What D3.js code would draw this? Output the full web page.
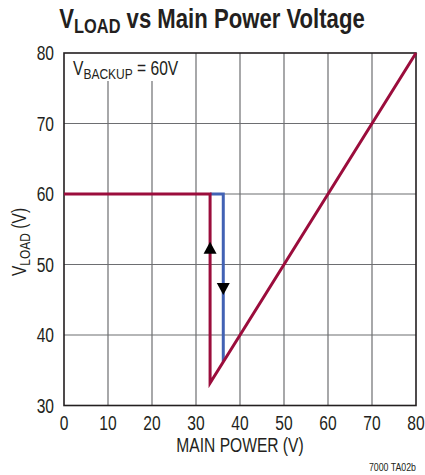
<!DOCTYPE html>
<html>
<head>
<meta charset="utf-8">
<script src="https://cdn.jsdelivr.net/npm/d3@7"></script>
<style>
  body { margin: 0; background: #fff; }
  svg text { font-family: "Liberation Sans", Arial, sans-serif; fill: #231f20; }
</style>
</head>
<body>
<script>
const xTicks = [0, 10, 20, 30, 40, 50, 60, 70, 80]
const yTicks = [30, 40, 50, 60, 70, 80]

// rising main power (red) and falling main power (blue)
const redLine = [[0, 60], [33.2, 60], [33.2, 33.2], [80, 80]]
const blueLine = [[33.2, 60], [36.2, 60], [36.2, 36.2]]
// arrow markers: [x, y, direction]
const arrows = [[33.2, 52.3, 'up'], [36.2, 46.6, 'down']]

const width = 425, height = 475
const margin = { left: 64, right: 9, top: 53, bottom: 70 }
const narrow = 0.8 // condensed look

const svg = d3.select('body').append('svg')
  .attr('width', width)
  .attr('height', height)

const x = d3.scaleLinear().domain([0, 80]).range([margin.left, width - margin.right])
const y = d3.scaleLinear().domain([30, 80]).range([height - margin.bottom + 0.5, margin.top])

function place (sel, px, py, rot, sx) {
  return sel.attr('transform', `translate(${px},${py})${rot ? ' rotate(' + rot + ')' : ''} scale(${sx || narrow},1)`)
}

// grid
svg.append('g')
  .selectAll('line')
  .data(xTicks.slice(1, -1))
  .join('line')
  .attr('x1', d => x(d)).attr('x2', d => x(d))
  .attr('y1', y(30)).attr('y2', y(80))
  .attr('stroke', '#6d6e71').attr('stroke-width', 1.2)

svg.append('g')
  .selectAll('line')
  .data(yTicks.slice(1, -1))
  .join('line')
  .attr('x1', x(0)).attr('x2', x(80))
  .attr('y1', d => y(d)).attr('y2', d => y(d))
  .attr('stroke', '#6d6e71').attr('stroke-width', 1.2)

// label box covers grid
svg.append('rect')
  .attr('x', x(0)).attr('y', y(80))
  .attr('width', x(22) - x(0)).attr('height', 28)
  .attr('fill', '#fff')

const lbl = place(svg.append('text'), x(0) + 9, y(80) + 22)
  .attr('font-size', 19.5)
lbl.append('tspan').text('V')
lbl.append('tspan').attr('font-size', 15).attr('dy', 4).text('BACKUP')
lbl.append('tspan').attr('dy', -4).text(' = 60V')

// frame
svg.append('rect')
  .attr('x', x(0)).attr('y', y(80))
  .attr('width', x(80) - x(0)).attr('height', y(30) - y(80))
  .attr('fill', 'none').attr('stroke', '#231f20').attr('stroke-width', 1.6)

const line = d3.line().x(d => x(d[0])).y(d => y(d[1]))

svg.append('path')
  .attr('d', line(blueLine))
  .attr('fill', 'none').attr('stroke', '#4262b4').attr('stroke-width', 3)

svg.append('path')
  .attr('d', line(redLine))
  .attr('fill', 'none').attr('stroke', '#9b0d3c').attr('stroke-width', 3)

svg.append('g')
  .selectAll('path')
  .data(arrows)
  .join('path')
  .attr('transform', d => `translate(${x(d[0])},${y(d[1])})`)
  .attr('d', d => d[2] === 'up' ? 'M-6.5,5.5L6.5,5.5L0,-6.5Z' : 'M-6.5,-5.5L6.5,-5.5L0,6.5Z')
  .attr('fill', '#000')

// tick labels
svg.append('g')
  .selectAll('text')
  .data(xTicks)
  .join('text')
  .each(function (d) { place(d3.select(this), x(d), y(30) + 24) })
  .attr('text-anchor', 'middle')
  .attr('font-size', 19.5)
  .text(d => d)

svg.append('g')
  .selectAll('text')
  .data(yTicks)
  .join('text')
  .each(function (d) { place(d3.select(this), x(0) - 10, y(d) + 7) })
  .attr('text-anchor', 'end')
  .attr('font-size', 19.5)
  .text(d => d)

// axis titles
place(svg.append('text'), x(40), 452)
  .attr('text-anchor', 'middle')
  .attr('font-size', 19.5)
  .text('MAIN POWER (V)')

const yl = place(svg.append('text'), 26, 242, -90)
  .attr('text-anchor', 'middle')
  .attr('font-size', 19.5)
yl.append('tspan').text('V')
yl.append('tspan').attr('font-size', 15).attr('dy', 4).text('LOAD')
yl.append('tspan').attr('dy', -4).text(' (V)')

// title
const t = place(svg.append('text'), 212, 28, 0, 0.82)
  .attr('text-anchor', 'middle')
  .attr('font-size', 27)
  .attr('font-weight', 'bold')
t.append('tspan').text('V')
t.append('tspan').attr('font-size', 20).attr('dy', 5).text('LOAD')
t.append('tspan').attr('dy', -5).text(' vs Main Power Voltage')

place(svg.append('text'), 416, 471)
  .attr('text-anchor', 'end')
  .attr('font-size', 11)
  .text('7000 TA02b')
</script>
</body>
</html>
